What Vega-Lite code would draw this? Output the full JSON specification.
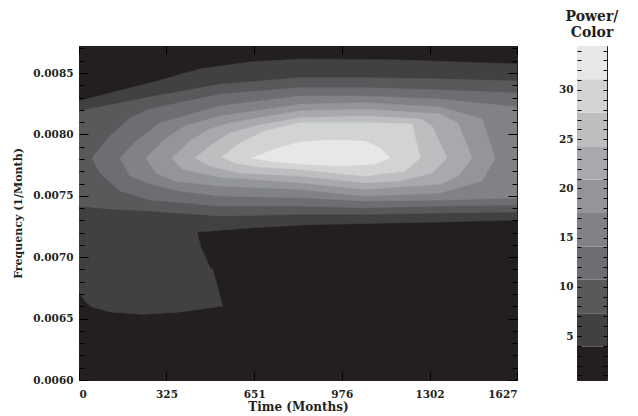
{
  "$schema": "https://vega.github.io/schema/vega-lite/v6.json",
  "background": "white",
  "padding": {"left": 12, "top": 9, "right": 5, "bottom": 0},
  "bounds": "flush",
  "spacing": 60,
  "config": {
    "font": "DejaVu Serif",
    "axis": {"labelFont": "DejaVu Serif", "labelFontWeight": "bold", "labelFontSize": 10.5, "labelColor": "#231f20", "titleFont": "DejaVu Serif", "titleFontWeight": "bold", "titleFontSize": 12, "titleColor": "#231f20", "tickColor": "#000000", "tickWidth": 1, "domain": false, "grid": false},
    "view": {"stroke": "#231f20", "strokeWidth": 1}
  },
  "datasets": {
    "contours": [
      {"level":1,"i":1,"t":0,"f":0.008272},{"level":1,"i":2,"t":263.7,"f":0.008419},{"level":1,"i":3,"t":449.5,"f":0.008533},{"level":1,"i":4,"t":635.2,"f":0.008590},{"level":1,"i":5,"t":820.9,"f":0.008614},{"level":1,"i":6,"t":1192.4,"f":0.008606},{"level":1,"i":7,"t":1627,"f":0.008573},{"level":1,"i":8,"t":1627,"f":0.007303},{"level":1,"i":9,"t":1341.0,"f":0.007287},{"level":1,"i":10,"t":1062.4,"f":0.007274},{"level":1,"i":11,"t":858.1,"f":0.007266},{"level":1,"i":12,"t":635.2,"f":0.007238},{"level":1,"i":13,"t":438.3,"f":0.007205},{"level":1,"i":14,"t":453.2,"f":0.007077},{"level":1,"i":15,"t":468.0,"f":0.007010},{"level":1,"i":16,"t":486.6,"f":0.006915},{"level":1,"i":17,"t":496.6,"f":0.006901},{"level":1,"i":18,"t":533.8,"f":0.006603},{"level":1,"i":19,"t":375.2,"f":0.006554},{"level":1,"i":20,"t":237.7,"f":0.006535},{"level":1,"i":21,"t":115.2,"f":0.006554},{"level":1,"i":22,"t":47.2,"f":0.006594},{"level":1,"i":23,"t":22.3,"f":0.006643},{"level":1,"i":24,"t":0,"f":0.006717},
      {"level":2,"i":1,"t":0,"f":0.008191},{"level":2,"i":2,"t":152.3,"f":0.008256},{"level":2,"i":3,"t":263.7,"f":0.008305},{"level":2,"i":4,"t":523.8,"f":0.008408},{"level":2,"i":5,"t":820.9,"f":0.008462},{"level":2,"i":6,"t":1062.4,"f":0.008462},{"level":2,"i":7,"t":1341.0,"f":0.008451},{"level":2,"i":8,"t":1627,"f":0.008435},{"level":2,"i":9,"t":1627,"f":0.007368},{"level":2,"i":10,"t":1341.0,"f":0.007360},{"level":2,"i":11,"t":1062.4,"f":0.007349},{"level":2,"i":12,"t":820.9,"f":0.007349},{"level":2,"i":13,"t":523.8,"f":0.007336},{"level":2,"i":14,"t":263.7,"f":0.007376},{"level":2,"i":15,"t":115.2,"f":0.007393},{"level":2,"i":16,"t":0,"f":0.007417},
      {"level":3,"i":1,"t":48.3,"f":0.007808},{"level":3,"i":2,"t":115.2,"f":0.007987},{"level":3,"i":3,"t":189.4,"f":0.008134},{"level":3,"i":4,"t":263.7,"f":0.008207},{"level":3,"i":5,"t":523.8,"f":0.008327},{"level":3,"i":6,"t":820.9,"f":0.008380},{"level":3,"i":7,"t":1062.4,"f":0.008380},{"level":3,"i":8,"t":1341.0,"f":0.008362},{"level":3,"i":9,"t":1627,"f":0.008337},{"level":3,"i":10,"t":1627,"f":0.007425},{"level":3,"i":11,"t":1341.0,"f":0.007417},{"level":3,"i":12,"t":1062.4,"f":0.007403},{"level":3,"i":13,"t":820.9,"f":0.007417},{"level":3,"i":14,"t":523.8,"f":0.007417},{"level":3,"i":15,"t":263.7,"f":0.007466},{"level":3,"i":16,"t":152.3,"f":0.007539},{"level":3,"i":17,"t":78.0,"f":0.007686},
      {"level":4,"i":1,"t":152.3,"f":0.007808},{"level":4,"i":2,"t":208.0,"f":0.007938},{"level":4,"i":3,"t":300.9,"f":0.008093},{"level":4,"i":4,"t":523.8,"f":0.008231},{"level":4,"i":5,"t":820.9,"f":0.008313},{"level":4,"i":6,"t":1062.4,"f":0.008313},{"level":4,"i":7,"t":1341.0,"f":0.008288},{"level":4,"i":8,"t":1627,"f":0.008223},{"level":4,"i":9,"t":1627,"f":0.007482},{"level":4,"i":10,"t":1341.0,"f":0.007466},{"level":4,"i":11,"t":1062.4,"f":0.007458},{"level":4,"i":12,"t":820.9,"f":0.007485},{"level":4,"i":13,"t":523.8,"f":0.007498},{"level":4,"i":14,"t":375.2,"f":0.007539},{"level":4,"i":15,"t":263.7,"f":0.007596},{"level":4,"i":16,"t":189.4,"f":0.007661},
      {"level":5,"i":1,"t":248.9,"f":0.007808},{"level":5,"i":2,"t":319.5,"f":0.007963},{"level":5,"i":3,"t":393.7,"f":0.008068},{"level":5,"i":4,"t":523.8,"f":0.008150},{"level":5,"i":5,"t":820.9,"f":0.008245},{"level":5,"i":6,"t":1062.4,"f":0.008258},{"level":5,"i":7,"t":1341.0,"f":0.008223},{"level":5,"i":8,"t":1497.0,"f":0.008125},{"level":5,"i":9,"t":1545.3,"f":0.007808},{"level":5,"i":10,"t":1497.0,"f":0.007621},{"level":5,"i":11,"t":1341.0,"f":0.007523},{"level":5,"i":12,"t":1062.4,"f":0.007498},{"level":5,"i":13,"t":820.9,"f":0.007553},{"level":5,"i":14,"t":523.8,"f":0.007580},{"level":5,"i":15,"t":356.6,"f":0.007621},{"level":5,"i":16,"t":286.0,"f":0.007686},
      {"level":6,"i":1,"t":345.5,"f":0.007808},{"level":6,"i":2,"t":412.3,"f":0.007946},{"level":6,"i":3,"t":486.6,"f":0.008044},{"level":6,"i":4,"t":560.9,"f":0.008093},{"level":6,"i":5,"t":820.9,"f":0.008191},{"level":6,"i":6,"t":1062.4,"f":0.008204},{"level":6,"i":7,"t":1341.0,"f":0.008166},{"level":6,"i":8,"t":1407.8,"f":0.008093},{"level":6,"i":9,"t":1459.8,"f":0.007808},{"level":6,"i":10,"t":1407.8,"f":0.007661},{"level":6,"i":11,"t":1341.0,"f":0.007596},{"level":6,"i":12,"t":1062.4,"f":0.007553},{"level":6,"i":13,"t":820.9,"f":0.007607},{"level":6,"i":14,"t":523.8,"f":0.007653},{"level":6,"i":15,"t":449.5,"f":0.007686},{"level":6,"i":16,"t":382.6,"f":0.007718},
      {"level":7,"i":1,"t":430.9,"f":0.007808},{"level":7,"i":2,"t":486.6,"f":0.007906},{"level":7,"i":3,"t":560.9,"f":0.008011},{"level":7,"i":4,"t":672.3,"f":0.008077},{"level":7,"i":5,"t":820.9,"f":0.008136},{"level":7,"i":6,"t":1062.4,"f":0.008150},{"level":7,"i":7,"t":1266.7,"f":0.008125},{"level":7,"i":8,"t":1311.3,"f":0.008068},{"level":7,"i":9,"t":1367.0,"f":0.007808},{"level":7,"i":10,"t":1311.3,"f":0.007686},{"level":7,"i":11,"t":1192.4,"f":0.007621},{"level":7,"i":12,"t":1062.4,"f":0.007607},{"level":7,"i":13,"t":820.9,"f":0.007661},{"level":7,"i":14,"t":598.1,"f":0.007686},{"level":7,"i":15,"t":486.6,"f":0.007743},
      {"level":8,"i":1,"t":531.2,"f":0.007816},{"level":8,"i":2,"t":598.1,"f":0.007930},{"level":8,"i":3,"t":690.9,"f":0.008028},{"level":8,"i":4,"t":820.9,"f":0.008095},{"level":8,"i":5,"t":1062.4,"f":0.008095},{"level":8,"i":6,"t":1237.0,"f":0.008085},{"level":8,"i":7,"t":1266.7,"f":0.007808},{"level":8,"i":8,"t":1211.0,"f":0.007702},{"level":8,"i":9,"t":1062.4,"f":0.007661},{"level":8,"i":10,"t":820.9,"f":0.007716},{"level":8,"i":11,"t":672.3,"f":0.007735},{"level":8,"i":12,"t":579.5,"f":0.007767},
      {"level":9,"i":1,"t":642.6,"f":0.007808},{"level":9,"i":2,"t":728.1,"f":0.007881},{"level":9,"i":3,"t":820.9,"f":0.007938},{"level":9,"i":4,"t":932.4,"f":0.007954},{"level":9,"i":5,"t":1062.4,"f":0.007946},{"level":9,"i":6,"t":1118.1,"f":0.007889},{"level":9,"i":7,"t":1155.2,"f":0.007808},{"level":9,"i":8,"t":1099.5,"f":0.007759},{"level":9,"i":9,"t":969.5,"f":0.007743},{"level":9,"i":10,"t":820.9,"f":0.007759},{"level":9,"i":11,"t":709.5,"f":0.007783}
    ],
    "bar": [
      {"level":0,"lo":0.53,"hi":3.92},{"level":1,"lo":3.92,"hi":7.32},{"level":2,"lo":7.32,"hi":10.71},{"level":3,"lo":10.71,"hi":14.1},{"level":4,"lo":14.1,"hi":17.5},{"level":5,"lo":17.5,"hi":20.9},{"level":6,"lo":20.9,"hi":24.29},{"level":7,"lo":24.29,"hi":27.68},{"level":8,"lo":27.68,"hi":31.08},{"level":9,"lo":31.08,"hi":34.47}
    ]
  },
  "hconcat": [
    {
      "width": 438,
      "height": 334,
      "view": {"fill": "#231f20", "stroke": "#231f20"},
      "data": {"name": "contours"},
      "layer": [
        {
          "mark": {"type": "line", "interpolate": "linear-closed", "clip": true, "strokeWidth": 0.6},
          "encoding": {
            "x": {"field": "t", "type": "quantitative", "scale": {"domain": [0, 1627], "nice": false, "zero": false},
                  "axis": {"orient": "bottom", "values": [0, 325, 651, 976, 1302, 1627], "format": "d", "title": "Time (Months)", "tickSize": -8, "labelPadding": 17, "titlePadding": 2, "zindex": 1}},
            "y": {"field": "f", "type": "quantitative", "scale": {"domain": [0.006, 0.00872], "nice": false, "zero": false},
                  "axis": {"orient": "left", "values": [0.006,0.0061,0.0062,0.0063,0.0064,0.0065,0.0066,0.0067,0.0068,0.0069,0.007,0.0071,0.0072,0.0073,0.0074,0.0075,0.0076,0.0077,0.0078,0.0079,0.008,0.0081,0.0082,0.0083,0.0084,0.0085,0.0086,0.0087],
                           "labelExpr": "round(datum.value*10000) % 5 == 0 ? format(datum.value, '.4f') : ''",
                           "tickSize": {"condition": {"test": "round(datum.value*10000) % 5 == 0", "value": -9}, "value": -5},
                           "labelPadding": 15, "title": "Frequency (1/Month)", "titleFontSize": 11, "titlePadding": 9, "zindex": 1}},
            "fill": {"field": "level", "type": "ordinal", "scale": {"domain": [0,1,2,3,4,5,6,7,8,9], "range": ["#231f20","#414042","#58595b","#6d6e71","#808285","#939598","#a7a9ac","#bcbec0","#d1d3d4","#e6e7e8"]}, "legend": null},
            "stroke": {"field": "level", "type": "ordinal", "scale": {"domain": [0,1,2,3,4,5,6,7,8,9], "range": ["#231f20","#414042","#58595b","#6d6e71","#808285","#939598","#a7a9ac","#bcbec0","#d1d3d4","#e6e7e8"]}, "legend": null},
            "order": {"field": "i", "type": "quantitative"}
          }
        },
        {
          "mark": {"type": "line", "opacity": 0, "clip": true},
          "encoding": {
            "x": {"field": "t", "type": "quantitative", "axis": {"orient": "top", "values": [0, 325, 651, 976, 1302, 1627], "labels": false, "title": null, "tickSize": -8, "zindex": 1}},
            "y": {"field": "f", "type": "quantitative", "axis": {"orient": "right", "values": [0.006,0.0061,0.0062,0.0063,0.0064,0.0065,0.0066,0.0067,0.0068,0.0069,0.007,0.0071,0.0072,0.0073,0.0074,0.0075,0.0076,0.0077,0.0078,0.0079,0.008,0.0081,0.0082,0.0083,0.0084,0.0085,0.0086,0.0087], "labels": false, "title": null,
                  "tickSize": {"condition": {"test": "round(datum.value*10000) % 5 == 0", "value": -9}, "value": -5}, "zindex": 1}},
            "detail": {"field": "level"},
            "order": {"field": "i", "type": "quantitative"}
          }
        }
      ],
      "resolve": {"axis": {"x": "independent", "y": "independent"}}
    },
    {
      "width": 30,
      "height": 334,
      "title": {"text": ["Power/", "Color"], "font": "DejaVu Serif", "fontWeight": "bold", "fontSize": 14, "anchor": "middle", "offset": 6, "color": "#231f20", "lineHeight": 16},
      "view": {"stroke": "#231f20"},
      "data": {"name": "bar"},
      "layer": [
        {
          "mark": {"type": "rect"},
          "encoding": {
            "x": {"datum": 0, "type": "quantitative", "scale": {"domain": [0, 1], "nice": false, "zero": false}, "axis": null},
            "x2": {"datum": 1},
            "y": {"field": "lo", "type": "quantitative", "scale": {"domain": [0.53, 34.47], "nice": false, "zero": false},
                  "axis": {"orient": "left", "values": [1,2,3,4,5,6,7,8,9,10,11,12,13,14,15,16,17,18,19,20,21,22,23,24,25,26,27,28,29,30,31,32,33,34],
                           "labelExpr": "datum.value % 5 == 0 ? datum.label : ''",
                           "offset": -4, "tickSize": 4,
                           "labelPadding": 4, "title": null, "zindex": 1}},
            "y2": {"field": "hi"},
            "fill": {"field": "level", "type": "ordinal", "scale": {"domain": [0,1,2,3,4,5,6,7,8,9], "range": ["#231f20","#414042","#58595b","#6d6e71","#808285","#939598","#a7a9ac","#bcbec0","#d1d3d4","#e6e7e8"]}, "legend": null}
          }
        },
        {
          "mark": {"type": "rect", "opacity": 0},
          "encoding": {
            "x": {"datum": 0, "type": "quantitative", "axis": null},
            "x2": {"datum": 1},
            "y": {"field": "lo", "type": "quantitative", "axis": {"orient": "right", "values": [1,2,3,4,5,6,7,8,9,10,11,12,13,14,15,16,17,18,19,20,21,22,23,24,25,26,27,28,29,30,31,32,33,34], "labels": false, "title": null,
                  "offset": -4, "tickSize": 4, "zindex": 1}},
            "y2": {"field": "hi"}
          }
        }
      ],
      "resolve": {"axis": {"y": "independent"}}
    }
  ]
}
